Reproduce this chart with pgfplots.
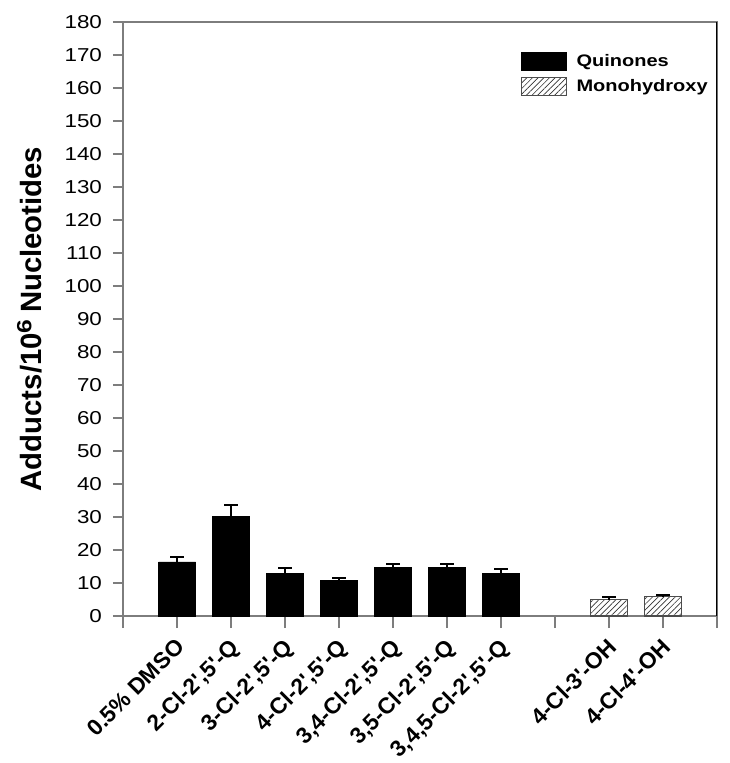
\documentclass[border=0pt]{standalone}
\usepackage{pgfplots}
\pgfplotsset{compat=1.18}
\usepackage{fontspec}
\setmainfont[FakeStretch=1.2]{Liberation Sans}
\newfontfamily\plainfont{Liberation Sans}
\usetikzlibrary{patterns.meta}
\newcommand{\p}{\textquotesingle}
\definecolor{axgray}{RGB}{125,125,125}

\begin{document}
\begin{tikzpicture}
\begin{axis}[
    name=ax,
    scale only axis,
    width=445.5pt, height=445.5pt,
    xmin=0, xmax=11,
    ymin=0, ymax=180,
    ytick={0,10,...,180},
    xtick={0,...,11},
    xticklabels={,0.5\% DMSO,{2-Cl-2\p,5\p-Q},{3-Cl-2\p,5\p-Q},{4-Cl-2\p,5\p-Q},
        {3,4-Cl-2\p,5\p-Q},{3,5-Cl-2\p,5\p-Q},{3,4,5-Cl-2\p,5\p-Q},,4-Cl-3\p-OH,4-Cl-4\p-OH,},
    xticklabel style={font=\plainfont\fontsize{17}{19}\selectfont\bfseries,
        xshift=-2pt, yshift=-10pt, rotate=45, anchor=north east, inner sep=1pt},
    yticklabel style={font=\fontsize{14}{16}\selectfont, xshift=-8pt},
    /pgf/number format/assume math mode=true,
    tick align=outside,
    xtick pos=bottom, ytick pos=left,
    xtick style={axgray, line width=1pt, /pgfplots/major tick length=9pt},
    ytick style={axgray, line width=1pt, /pgfplots/major tick length=7.5pt},
    axis line style={axgray, line width=1pt},
    ylabel={Adducts/10$^{\mathbf{6}}$ Nucleotides},
    ylabel style={font=\plainfont\fontsize{22}{24}\selectfont\bfseries},
    ylabel shift=10pt,
    ybar, bar shift=0pt, bar width=27.75pt,
    area legend,
    legend image code/.code={\draw[#1] (0pt,-6.75pt) rectangle (33.75pt,6.75pt);},
    legend style={at={(0.996,0.955)}, anchor=north east, draw=none, fill=none,
        font=\fontsize{12.5}{15}\selectfont\bfseries, row sep=4pt,
        /tikz/every odd column/.append style={column sep=5pt}},
    legend cell align=left,
]
%% quinones
\addplot[fill=black, draw=black,
    error bars/.cd, y dir=plus, y explicit,
    error bar style={black, line width=1.5pt},
    error mark options={rotate=90, mark size=4.9pt, line width=1.5pt, black}]
coordinates {
    (1,16.4) +- (0,1.6)
    (2,30.1) +- (0,3.6)
    (3,12.8) +- (0,1.6)
    (4,10.8) +- (0,0.8)
    (5,14.8) +- (0,0.9)
    (6,14.8) +- (0,1.0)
    (7,12.9) +- (0,1.2)
};
%% monohydroxy
\addplot[fill=white, draw=black!70, line width=0.8pt,
    postaction={pattern={Lines[angle=45,distance=3pt,line width=0.5pt]}, pattern color=black!80},
    error bars/.cd, y dir=plus, y explicit,
    error bar style={black, line width=1.5pt},
    error mark options={rotate=90, mark size=4.9pt, line width=1.5pt, black}]
coordinates {
    (9,5.0) +- (0,0.8)
    (10,5.9) +- (0,0.6)
};
\draw[black, line width=1pt] (rel axis cs:1,0) -- (rel axis cs:1,1);
\legend{Quinones, Monohydroxy}
\end{axis}
\pgfresetboundingbox
\path[use as bounding box] ([shift={(-92.25pt,-110.25pt)}]ax.south west)
    rectangle ([shift={(9pt,16.5pt)}]ax.north east);
\end{tikzpicture}
\end{document}
